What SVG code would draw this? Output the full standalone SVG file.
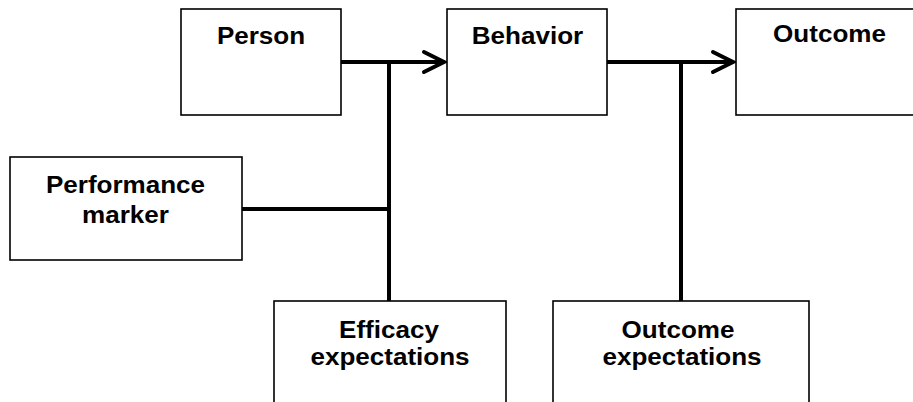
<svg xmlns="http://www.w3.org/2000/svg" width="913" height="402" viewBox="0 0 913 402">
<style>
.box{fill:#fff;stroke:#000;stroke-width:1.6}
.lbl{font-family:"Liberation Sans",Arial,sans-serif;font-weight:bold;font-size:24px;fill:#000;text-anchor:middle}
.con{fill:none;stroke:#000;stroke-width:4}
.head{fill:none;stroke:#000;stroke-width:4;stroke-linecap:round;stroke-linejoin:miter}
</style>
<rect width="913" height="402" fill="#fff"/>
<g id="connectors">
<line class="con" x1="341" y1="62" x2="444" y2="62"/>
<polyline class="head" points="424,52 444,62 424,72"/>
<line class="con" x1="607" y1="62" x2="733" y2="62"/>
<polyline class="head" points="713,52 733,62 713,72"/>
<line class="con" x1="389" y1="60" x2="389" y2="301"/>
<line class="con" x1="681" y1="60" x2="681" y2="301"/>
<line class="con" x1="242" y1="209" x2="389" y2="209"/>
</g>
<g id="person">
<rect class="box" x="181" y="9" width="160" height="106"/>
<text class="lbl" transform="translate(261,44) scale(1.085,1)">Person</text>
</g>
<g id="behavior">
<rect class="box" x="447" y="9" width="160" height="106"/>
<text class="lbl" transform="translate(527.5,44) scale(1.085,1)">Behavior</text>
</g>
<g id="outcome">
<rect class="box" x="736" y="9" width="190" height="106"/>
<text class="lbl" transform="translate(829.5,42) scale(1.085,1)">Outcome</text>
</g>
<g id="performance-marker">
<rect class="box" x="10" y="157" width="232" height="103"/>
<text class="lbl" transform="translate(125.5,193) scale(1.085,1)">Performance</text>
<text class="lbl" transform="translate(125.5,222.5) scale(1.085,1)">marker</text>
</g>
<g id="efficacy-expectations">
<rect class="box" x="274" y="301" width="232" height="110"/>
<text class="lbl" transform="translate(389,337.5) scale(1.085,1)">Efficacy</text>
<text class="lbl" transform="translate(390,365) scale(1.085,1)">expectations</text>
</g>
<g id="outcome-expectations">
<rect class="box" x="553" y="301" width="256" height="110"/>
<text class="lbl" transform="translate(678,337.5) scale(1.085,1)">Outcome</text>
<text class="lbl" transform="translate(682,365) scale(1.085,1)">expectations</text>
</g>
</svg>
